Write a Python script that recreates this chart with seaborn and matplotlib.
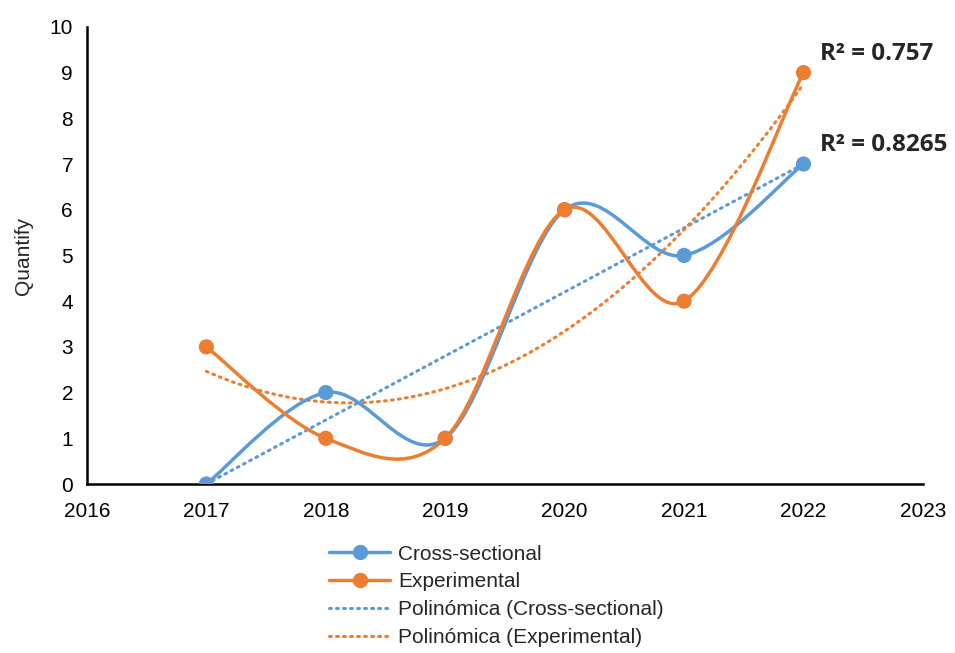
import numpy as np
import pandas as pd
import matplotlib
matplotlib.use("Agg")
import matplotlib.pyplot as plt
import seaborn as sns
from matplotlib.path import Path
from matplotlib.patches import PathPatch
from matplotlib.lines import Line2D

# Datos
years = [2017, 2018, 2019, 2020, 2021, 2022]
cross_sectional = [0, 2, 1, 6, 5, 7]
experimental = [3, 1, 1, 6, 4, 9]
series_names = ["Cross-sectional", "Experimental"]
trend_names = ["Polinómica (Cross-sectional)", "Polinómica (Experimental)"]
r2_labels = ["R\u00b2 = 0.8265", "R\u00b2 = 0.757"]
x_ticks = [2016, 2017, 2018, 2019, 2020, 2021, 2022, 2023]
y_ticks = list(range(0, 11))

blue = "#5B9BD5"
orange = "#ED7D31"
colors = [blue, orange]

sns.set_style("white")
plt.rcParams["font.family"] = ["Liberation Sans", "DejaVu Sans"]

fig = plt.figure(figsize=(9.55, 6.53), dpi=100)
ax = fig.add_axes([0.091, 0.2588, 0.8754, 0.70])


def smooth_path(xs, ys):
    # curva suavizada tipo Excel (Bezier por tramos)
    pts = np.column_stack([xs, ys]).astype(float)
    n = len(pts)
    verts = [pts[0]]
    codes = [Path.MOVETO]
    for i in range(n - 1):
        p0 = pts[i - 1] if i > 0 else pts[i]
        p1 = pts[i]
        p2 = pts[i + 1]
        p3 = pts[i + 2] if i + 2 < n else pts[i + 1]
        c1 = p1 + (p2 - p0) / 6.0
        c2 = p2 - (p3 - p1) / 6.0
        verts += [c1, c2, p2]
        codes += [Path.CURVE4] * 3
    return Path(verts, codes)


df = pd.DataFrame({"year": years * 2,
                   "value": cross_sectional + experimental,
                   "serie": [series_names[0]] * 6 + [series_names[1]] * 6})

dots = (0, (0.6, 1.7))

# tendencias polinómicas (orden 2)
xx = np.linspace(years[0], years[-1], 200)
for vals, c in zip([cross_sectional, experimental], colors):
    coef = np.polyfit(np.array(years) - 2016, vals, 2)
    yy = np.polyval(coef, xx - 2016)
    ax.plot(xx, yy, color=c, lw=2.2, linestyle=dots,
            dash_capstyle="round", zorder=2)

# líneas suavizadas
for vals, c in zip([cross_sectional, experimental], colors):
    ax.add_patch(PathPatch(smooth_path(years, vals), fill=False,
                           edgecolor=c, lw=2.5, zorder=3,
                           capstyle="round", joinstyle="round"))

sns.scatterplot(data=df, x="year", y="value", hue="serie",
                palette=colors, s=120, edgecolor="none", legend=False,
                ax=ax, zorder=4)

ax.set_xlim(2016, 2023)
ax.set_ylim(0, 10)
ax.set_xticks(x_ticks)
ax.set_yticks(y_ticks)
ax.tick_params(axis="both", labelsize=15, length=0, colors="black", pad=10)
ax.tick_params(axis="x", pad=13)
ax.set_xlabel("")
ax.set_ylabel("Quantify", fontsize=15, labelpad=12)
for s in ["top", "right"]:
    ax.spines[s].set_visible(False)
for s in ["left", "bottom"]:
    ax.spines[s].set_color("black")
    ax.spines[s].set_linewidth(1.8)

# etiquetas R²
ax.text(2022.14, 7.42, r2_labels[0], fontsize=17.5, fontweight="bold",
        va="center", ha="left", family=["Open Sans", "DejaVu Sans"])
ax.text(2022.14, 9.40, r2_labels[1], fontsize=17.5, fontweight="bold",
        va="center", ha="left", family=["Open Sans", "DejaVu Sans"])

handles = [
    Line2D([], [], color=blue, lw=2.5, marker="o", markersize=10),
    Line2D([], [], color=orange, lw=2.5, marker="o", markersize=10),
    Line2D([], [], color=blue, lw=2.2, linestyle=dots, dash_capstyle="round"),
    Line2D([], [], color=orange, lw=2.2, linestyle=dots, dash_capstyle="round"),
]
fig.legend(handles, series_names + trend_names, loc="upper left",
           bbox_to_anchor=(0.345, 0.166), frameon=False, fontsize=15,
           handlelength=2.9, handletextpad=0.4, labelspacing=0.42,
           borderpad=0, borderaxespad=0)

fig.savefig("out.png", dpi=100)
